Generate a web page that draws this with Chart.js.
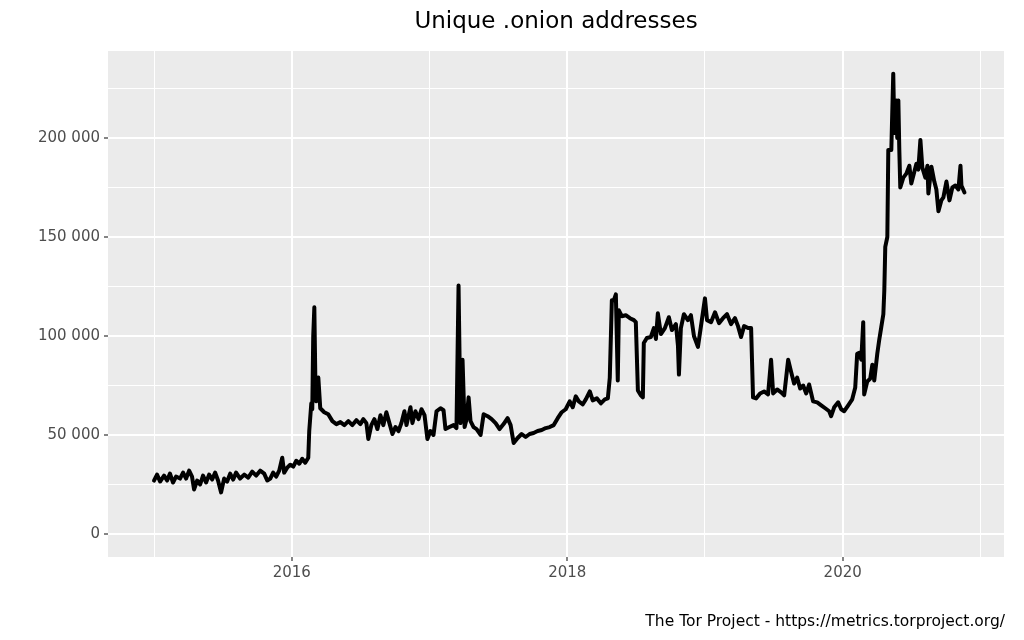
<!DOCTYPE html>
<html>
<head>
<meta charset="utf-8">
<script src="https://cdn.jsdelivr.net/npm/chart.js@4/dist/chart.umd.min.js"></script>
<style>
  html, body { margin: 0; padding: 0; background: #fff; }
  #wrap { width: 1024px; height: 640px; position: relative; }
</style>
</head>
<body>
<div id="wrap"><canvas id="c"></canvas></div>
<script>
// decimal years
var years = [
  2015.000, 2015.022, 2015.044, 2015.073, 2015.095, 2015.116, 2015.138, 2015.160, 2015.189, 2015.211,
  2015.233, 2015.255, 2015.276, 2015.291, 2015.313, 2015.335, 2015.356, 2015.378, 2015.400, 2015.422,
  2015.444, 2015.465, 2015.487, 2015.509, 2015.531, 2015.553, 2015.575, 2015.596, 2015.625, 2015.655,
  2015.684, 2015.713, 2015.742, 2015.771, 2015.800, 2015.822, 2015.844, 2015.865, 2015.887, 2015.909,
  2015.931, 2015.945, 2015.967, 2015.989, 2016.011, 2016.033, 2016.055, 2016.076, 2016.098, 2016.120,
  2016.127, 2016.142, 2016.149, 2016.156, 2016.164, 2016.171, 2016.178, 2016.193, 2016.207, 2016.236,
  2016.265, 2016.295, 2016.324, 2016.353, 2016.382, 2016.411, 2016.440, 2016.469, 2016.498, 2016.520,
  2016.542, 2016.556, 2016.578, 2016.600, 2016.622, 2016.644, 2016.665, 2016.687, 2016.709, 2016.731,
  2016.753, 2016.775, 2016.796, 2016.818, 2016.833, 2016.862, 2016.876, 2016.898, 2016.920, 2016.942,
  2016.964, 2016.985, 2017.007, 2017.029, 2017.051, 2017.080, 2017.102, 2017.116, 2017.145, 2017.175,
  2017.196, 2017.211, 2017.225, 2017.240, 2017.255, 2017.269, 2017.284, 2017.298, 2017.320, 2017.342,
  2017.371, 2017.393, 2017.422, 2017.451, 2017.480, 2017.509, 2017.538, 2017.567, 2017.589, 2017.611,
  2017.640, 2017.669, 2017.698, 2017.727, 2017.756, 2017.785, 2017.815, 2017.844, 2017.873, 2017.902,
  2017.931, 2017.960, 2017.989, 2018.018, 2018.040, 2018.062, 2018.084, 2018.113, 2018.135, 2018.164,
  2018.185, 2018.215, 2018.244, 2018.273, 2018.295, 2018.309, 2018.324, 2018.338, 2018.353, 2018.367,
  2018.375, 2018.396, 2018.425, 2018.455, 2018.484, 2018.498, 2018.513, 2018.535, 2018.549, 2018.556,
  2018.578, 2018.607, 2018.629, 2018.644, 2018.658, 2018.680, 2018.709, 2018.738, 2018.760, 2018.789,
  2018.804, 2018.811, 2018.825, 2018.847, 2018.876, 2018.898, 2018.920, 2018.949, 2018.971, 2019.000,
  2019.015, 2019.044, 2019.073, 2019.102, 2019.131, 2019.160, 2019.189, 2019.218, 2019.240, 2019.262,
  2019.284, 2019.313, 2019.335, 2019.349, 2019.371, 2019.400, 2019.429, 2019.458, 2019.480, 2019.495,
  2019.524, 2019.553, 2019.575, 2019.604, 2019.625, 2019.647, 2019.669, 2019.691, 2019.713, 2019.735,
  2019.756, 2019.785, 2019.815, 2019.844, 2019.873, 2019.902, 2019.916, 2019.938, 2019.967, 2019.989,
  2020.011, 2020.040, 2020.069, 2020.091, 2020.105, 2020.120, 2020.135, 2020.149, 2020.156, 2020.178,
  2020.200, 2020.215, 2020.229, 2020.251, 2020.265, 2020.280, 2020.295, 2020.302, 2020.309, 2020.324,
  2020.331, 2020.353, 2020.367, 2020.375, 2020.389, 2020.396, 2020.404, 2020.411, 2020.418, 2020.440,
  2020.462, 2020.484, 2020.498, 2020.520, 2020.535, 2020.549, 2020.564, 2020.578, 2020.600, 2020.615,
  2020.622, 2020.644, 2020.665, 2020.680, 2020.695, 2020.716, 2020.731, 2020.753, 2020.775, 2020.796,
  2020.818, 2020.840, 2020.855, 2020.862, 2020.884
];

var onions = [
  27000, 30000, 26500, 29500, 27000, 30500, 26000, 29000, 28000, 31000,
  28000, 32000, 29000, 22500, 27000, 25000, 29500, 26000, 30000, 27500,
  31000, 27000, 21000, 28000, 26500, 30500, 27500, 31000, 28000, 30000,
  28500, 31500, 29500, 32000, 30500, 27000, 28000, 31000, 29000, 32000,
  38500, 31000, 33500, 35000, 34000, 37000, 35500, 38000, 36000, 38500,
  52000, 66000, 63000, 100000, 114500, 80000, 67000, 79000, 63500, 61500,
  60500, 57000, 55500, 56500, 55000, 57000, 55000, 57500, 55500, 58000,
  56000, 48000, 55000, 58000, 53000, 60000, 55000, 61500, 56000, 50500,
  54000, 52000, 56000, 62000, 55000, 64000, 56000, 62000, 58000, 63000,
  60000, 48000, 52000, 50000, 62000, 63500, 62500, 53000, 54000, 55000,
  53500, 125500, 56000, 88000, 54000, 58000, 69000, 57000, 54000, 53000,
  50000, 60500, 59500, 58000, 56000, 53000, 55500, 58500, 55000, 46000,
  48500, 50500, 49000, 50500, 51000, 52000, 52500, 53500, 54000, 55000,
  58500, 61500, 63000, 67000, 64000, 69500, 67000, 65500, 68000, 72000,
  67500, 68500, 66000, 68000, 68500, 79000, 118000, 118000, 121000, 77500,
  113000, 110000, 110500, 109000, 108000, 107000, 72500, 70000, 69000, 96500,
  99000, 99500, 104000, 98500, 111500, 101000, 104000, 109500, 103000, 106000,
  95000, 80500, 104000, 111000, 108000, 110500, 100000, 94500, 105000, 119000,
  108000, 107000, 112000, 106500, 109000, 111000, 106000, 109000, 105000, 99500,
  105000, 104000, 104000, 69000, 68500, 71000, 72000, 70500, 88000, 71000,
  73000, 71500, 70000, 88000, 82000, 76000, 79000, 73500, 75000, 71000,
  75500, 67000, 66500, 65000, 63500, 62000, 59500, 64000, 66500, 63000,
  62000, 65000, 68000, 74000, 91000, 91500, 88000, 107000, 70500, 77000,
  78500, 85500, 77500, 91000, 98000, 104500, 111000, 123000, 145000, 150000,
  194000, 194000, 232500, 202500, 219000, 200000, 219000, 194000, 175000, 180000,
  182000, 186000, 177000, 183000, 187000, 184000, 199000, 185000, 180000, 186000,
  172000, 185500, 178000, 174000, 163000, 168500, 170000, 178000, 168500, 175000,
  176000, 174000, 186000, 176000, 172500
];

var xTicks = [2015, 2016, 2017, 2018, 2019, 2020, 2021];
var yTicks = [0, 25000, 50000, 75000, 100000, 125000, 150000, 175000, 200000, 225000];

var chartTitle = "Unique .onion addresses";
var caption = "The Tor Project - https://metrics.torproject.org/";

var points = years.map(function(t, i) { return { x: t, y: onions[i] }; });

function isMajorX(v) { return v % 2 === 0; }
function isMajorY(v) { return v % 50000 === 0; }
function fmt(v) { return String(v).replace(/\B(?=(\d{3})+(?!\d))/g, " "); }

// grey panel + title + caption, ggplot style
var decor = {
  id: "decor",
  beforeDraw: function(chart) {
    var a = chart.chartArea, ctx = chart.ctx;
    ctx.save();
    ctx.fillStyle = "#EBEBEB";
    ctx.fillRect(a.left, a.top, a.right - a.left, a.bottom - a.top);
    ctx.restore();
  },
  afterDraw: function(chart) {
    var a = chart.chartArea, ctx = chart.ctx;
    ctx.save();
    ctx.fillStyle = "#000";
    ctx.textBaseline = "alphabetic";
    ctx.font = "23px 'DejaVu Sans'";
    ctx.textAlign = "center";
    ctx.fillText(chartTitle, (a.left + a.right) / 2, 28);
    ctx.font = "15.5px 'DejaVu Sans'";
    ctx.textAlign = "right";
    ctx.fillText(caption, a.right + 1, 626);
    ctx.restore();
  }
};

new Chart(document.getElementById("c"), {
  type: "line",
  data: {
    datasets: [{
      data: points,
      borderColor: "#000",
      borderWidth: 4,
      pointRadius: 0,
      tension: 0,
      borderJoinStyle: "round",
      borderCapStyle: "round"
    }]
  },
  options: {
    animation: false,
    responsive: true,
    maintainAspectRatio: false,
    layout: { padding: { top: 51, right: 20, bottom: 43, left: 0 } },
    plugins: { legend: { display: false }, tooltip: { enabled: false } },
    scales: {
      x: {
        type: "linear",
        min: 2014.666,
        max: 2021.171,
        afterBuildTicks: function(s) { s.ticks = xTicks.map(function(v) { return { value: v }; }); },
        afterFit: function(s) { s.height = 40; },
        border: { display: false },
        grid: {
          color: "#FFFFFF",
          lineWidth: function(c) { return c.tick && isMajorX(c.tick.value) ? 2 : 1; },
          tickColor: function(c) { return c.tick && isMajorX(c.tick.value) ? "#333333" : "rgba(0,0,0,0)"; },
          tickLength: 4,
          tickWidth: 1.2
        },
        ticks: {
          autoSkip: false,
          maxRotation: 0,
          padding: 3,
          color: "#4D4D4D",
          font: { family: "'DejaVu Sans'", size: 15 },
          callback: function(v) { return isMajorX(v) ? String(v) : ""; }
        }
      },
      y: {
        min: -11616,
        max: 243939,
        afterBuildTicks: function(s) { s.ticks = yTicks.map(function(v) { return { value: v }; }); },
        afterFit: function(s) { s.width = 108; },
        border: { display: false },
        grid: {
          color: "#FFFFFF",
          lineWidth: function(c) { return c.tick && isMajorY(c.tick.value) ? 2 : 1; },
          tickColor: function(c) { return c.tick && isMajorY(c.tick.value) ? "#333333" : "rgba(0,0,0,0)"; },
          tickLength: 4,
          tickWidth: 1.2
        },
        ticks: {
          autoSkip: false,
          padding: 4,
          color: "#4D4D4D",
          font: { family: "'DejaVu Sans'", size: 15 },
          callback: function(v) { return isMajorY(v) ? fmt(v) : ""; }
        }
      }
    }
  },
  plugins: [decor]
});
</script>
</body>
</html>
